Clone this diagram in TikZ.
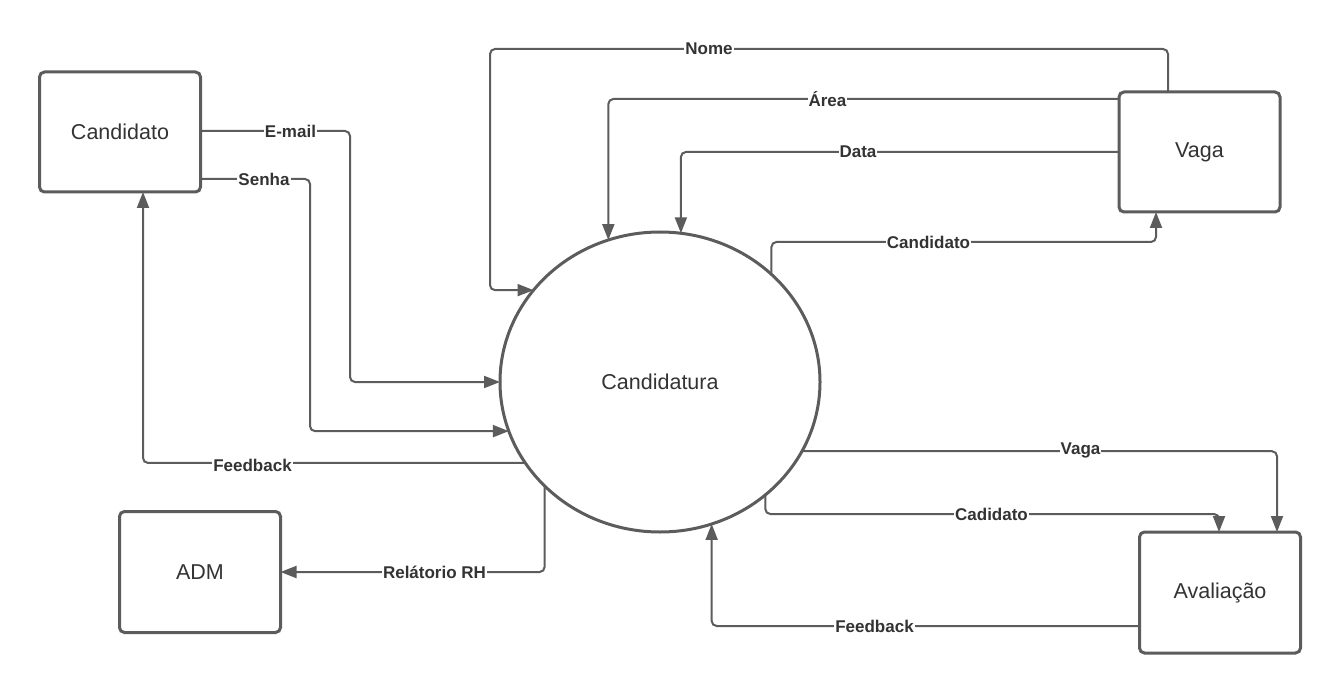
\documentclass[tikz,border=0pt]{standalone}
\usepackage{fontspec}
\setmainfont{Liberation Sans}
\usetikzlibrary{arrows.meta,shapes.geometric,calc}
\definecolor{ln}{RGB}{92,92,92}
\definecolor{tx}{RGB}{51,51,51}
\tikzset{
  ent/.style={draw=ln, line width=3pt, rounded corners=5pt, fill=white, minimum width=161pt, minimum height=120pt, inner sep=0pt, outer sep=0pt, text=tx, font=\fontsize{21.5}{24}\selectfont},
  proc/.style={ellipse, draw=ln, line width=3pt, fill=white, minimum width=320pt, minimum height=300pt, inner sep=0pt, outer sep=0pt, text=tx, font=\fontsize{21.5}{24}\selectfont},
  arr/.style={draw=ln, line width=2pt, rounded corners=5pt, -{Triangle[length=16pt,width=12pt]}},
  lbl/.style={fill=white, inner sep=1pt, text=tx, font=\bfseries\fontsize{17}{19}\selectfont}
}
\begin{document}
\begin{tikzpicture}[x=1pt,y=-1pt]
\useasboundingbox (0,0) rectangle (1340,692);
\fill[white] (0,0) rectangle (1340,692);

\node[ent] (cand) at (120,132) {Candidato};
\node[ent] (vaga) at (1199.5,152) {Vaga};
\node[ent, minimum height=121pt] (adm) at (200,572) {ADM};
\node[ent, minimum height=121pt] (aval) at (1220,592.5) {Avaliação};
\node[proc] (c) at (660,382) {Candidatura};

% Candidato -> Candidatura
\draw[arr] (cand.east |- 0,131) -| (350,300) |- (c.west);
\draw[arr] (cand.east |- 0,179) -| (310,300) |- (c.198.7);
% Candidatura -> Candidato
\draw[arr] (c.211.9) -| (cand.south -| 143,0);
% Candidatura -> ADM
\draw[arr] (c.222.2) |- (adm.east);
% Vaga -> Candidatura
\draw[arr] (vaga.north -| 1168,0) |- (490,49) |- (c.144.4);
\draw[arr] (vaga.west |- 0,99) -| (c.110.1);
\draw[arr] (vaga.west |- 0,152) -| (c.82.3);
% Candidatura -> Vaga
\draw[arr] (c.44.2) |- (1156,242) -- (vaga.south -| 1156,0);
% Candidatura -> Avaliacao
\draw[arr] (c.334.5) -| (aval.north -| 1277,0);
\draw[arr] (c.313.3) |- (1219,514) -- (aval.north -| 1219,0);
% Avaliacao -> Candidatura
\draw[arr] (aval.west |- 0,626) -| (c.290.1);

\node[lbl] (lemail) at (290.5,131) {E-mail};
\node[lbl] (lsenha) at (264,179) {Senha};
\node[lbl] (lfeed1) at (252.5,465) {Feedback};
\node[lbl] (lrel) at (434.5,572) {Relátorio RH};
\node[lbl] (lnome) at (709,49) {Nome};
\node[lbl] (larea) at (827.5,99) {Área};
\node[lbl] (ldata) at (858,152) {Data};
\node[lbl] (lcand) at (928.5,242) {Candidato};
\node[lbl] (lvaga) at (1080.5,450) {Vaga};
\node[lbl] (lcadi) at (991.5,514) {Cadidato};
\node[lbl] (lfeed2) at (874.5,626) {Feedback};
\end{tikzpicture}
\end{document}
